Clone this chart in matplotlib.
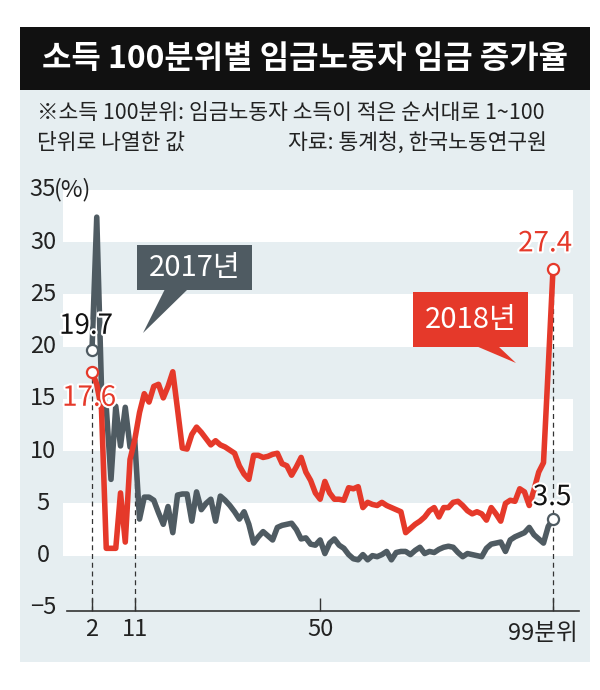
import matplotlib
matplotlib.use('Agg')
import matplotlib.pyplot as plt
from matplotlib.patches import Rectangle, Polygon
import matplotlib.patheffects as pe
import matplotlib.transforms as mtransforms

# ---------------- data ----------------
percentiles = list(range(2, 100))
wage_2017 = [19.7, 32.4, 16.0, 14.2, 7.3, 14.3, 10.5, 14.2, 10.4, 11.0,
             3.5, 5.6, 5.6, 5.3, 4.1, 3.0, 4.7, 2.2, 5.8, 5.9,
             5.9, 3.3, 6.1, 4.4, 5.0, 5.4, 3.3, 5.7, 5.3, 4.8,
             4.2, 3.5, 4.2, 3.0, 1.2, 1.8, 2.3, 1.9, 1.5, 2.7,
             2.9, 3.0, 3.1, 2.5, 1.6, 1.7, 1.1, 1.0, 1.5, 0.2,
             1.2, 1.6, 1.0, 0.7, 0.1, -0.3, -0.4, 0.1, -0.4, 0.0,
             -0.1, 0.1, 0.4, -0.4, 0.3, 0.4, 0.4, 0.1, 0.5, 0.8,
             0.2, 0.4, 0.3, 0.6, 0.8, 0.9, 0.8, 0.3, -0.1, 0.2,
             0.1, 0.0, -0.1, 0.7, 1.1, 1.2, 1.3, 0.4, 1.5, 1.8,
             2.0, 2.2, 2.7, 2.0, 1.6, 1.2, 2.8, 3.5]
wage_2018 = [17.6, 16.4, 14.0, 0.7, 0.7, 0.7, 6.0, 1.3, 9.2, 11.1,
             13.7, 15.5, 14.7, 16.2, 16.4, 15.1, 16.2, 17.6, 14.0, 10.3,
             10.2, 11.6, 12.3, 11.8, 11.2, 10.6, 11.0, 10.6, 10.4, 10.1,
             9.8, 8.6, 7.8, 7.3, 9.6, 9.6, 9.4, 9.5, 9.7, 9.8,
             8.8, 8.6, 7.7, 8.5, 9.4, 8.0, 7.2, 6.0, 5.4, 7.1,
             6.0, 5.4, 5.4, 5.3, 6.5, 6.4, 6.6, 4.6, 5.1, 4.9,
             4.8, 5.1, 4.8, 4.6, 4.4, 4.2, 2.2, 2.6, 3.0, 3.3,
             3.7, 4.3, 4.6, 3.7, 4.6, 4.6, 5.1, 5.2, 4.8, 4.3,
             4.0, 4.2, 4.0, 3.4, 4.6, 4.0, 3.3, 5.0, 5.3, 5.2,
             6.4, 6.1, 4.8, 6.3, 8.0, 8.9, 18.0, 27.4]
x_ticks = [2, 11, 50, 99]
x_tick_labels = ['2', '11', '50', '99분위']
y_ticks = [-5, 0, 5, 10, 15, 20, 25, 30, 35]
y_tick_labels = ['−5', '0', '5', '10', '15', '20', '25', '30', '35']
series_names = ['2017년', '2018년']

title = '소득 100분위별 임금노동자 임금 증가율'
note1 = '※소득 100분위: 임금노동자 소득이 적은 순서대로 1~100'
note2 = '단위로 나열한 값'
source = '자료: 통계청, 한국노동연구원'

# ---------------- style ----------------
FONT = ['Liberation Sans Narrow', 'Noto Sans CJK KR', 'DejaVu Sans']
KFONT = ['Noto Sans CJK KR', 'DejaVu Sans']
plt.rcParams['font.family'] = FONT
GRAY = '#4f5b62'
RED = '#e5392a'
PANEL = '#e6eef1'
INK = '#222222'

W, H = 600, 690
fig = plt.figure(figsize=(W / 100, H / 100), dpi=100)
fig.patch.set_facecolor('white')


def fx(px):
    return px / W


def fy(py):
    return 1 - py / H


# panel background and title band
fig.add_artist(Rectangle((fx(20), fy(662)), fx(590) - fx(20), fy(90) - fy(662),
                         transform=fig.transFigure, facecolor=PANEL, edgecolor='none', zorder=0))
fig.add_artist(Rectangle((fx(20), fy(90)), fx(590) - fx(20), fy(27) - fy(90),
                         transform=fig.transFigure, facecolor='#111111', edgecolor='none', zorder=0))
fig.text(fx(305), fy(59), title, color='white', fontsize=23, fontweight='bold',
         family=KFONT, ha='center', va='center')
fig.text(fx(37), fy(113), note1, color=INK, fontsize=15.5, family=KFONT, ha='left', va='center')
fig.text(fx(37), fy(143), note2, color=INK, fontsize=15.5, family=KFONT, ha='left', va='center')
fig.text(fx(547), fy(143), source, color=INK, fontsize=15.5, family=KFONT, ha='right', va='center')

# axes
ax = fig.add_axes([fx(67), fy(611), fx(579) - fx(67), fy(190) - fy(611)])
ax.set_facecolor('none')
ax.set_xlim(-3.26, 104.47)
ax.set_ylim(-5.3, 35)

blend = mtransforms.blended_transform_factory(fig.transFigure, ax.transData)
for lo in [30, 20, 10, 0]:
    ax.add_patch(Rectangle((fx(63), lo), fx(573) - fx(63), 5, transform=blend,
                           facecolor='white', edgecolor='none', zorder=0.2, clip_on=False))

for s in ['top', 'right', 'left']:
    ax.spines[s].set_visible(False)
ax.spines['bottom'].set_color('#333333')
ax.spines['bottom'].set_linewidth(1.2)

ax.set_yticks([])
for v, lab in zip(y_ticks, y_tick_labels):
    ax.text(fx(43), v, lab, transform=blend, ha='center', va='center',
            fontsize=17, color=INK, clip_on=False)
ax.text(fx(54), 35, '(%)', transform=blend, ha='left', va='center',
        fontsize=17, color=INK, clip_on=False)

ax.set_xticks(x_ticks)
ax.set_xticklabels(x_tick_labels[:-1] + [''])
ax.tick_params(axis='x', direction='in', length=9.5, width=1.0, color='#333333',
               labelsize=17, labelcolor=INK, pad=5)
xblend = mtransforms.blended_transform_factory(fig.transFigure, fig.transFigure)
ax.text(fx(578), fy(633), x_tick_labels[-1], transform=xblend, ha='right', va='center',
        fontsize=17, color=INK)

# dashed guides
dash = dict(color='#333333', lw=0.9, ls=(0, (4, 3)), zorder=1)
ax.plot([2, 2], [-5.3, wage_2018[0]], **dash)
ax.plot([11, 11], [-5.3, wage_2017[9]], **dash)
ax.plot([99, 99], [-5.3, wage_2018[-1]], **dash)

# lines
ax.plot(percentiles, wage_2017, color=GRAY, lw=4.0, zorder=3,
        solid_joinstyle='round', solid_capstyle='round')
ax.plot(percentiles, wage_2018, color=RED, lw=4.0, zorder=4,
        solid_joinstyle='round', solid_capstyle='round')

mk = dict(marker='o', mfc='white', ms=8, mew=1.6, ls='none', zorder=6)
ax.plot([percentiles[0], percentiles[-1]], [wage_2017[0], wage_2017[-1]], mec=GRAY, **mk)
ax.plot([percentiles[0], percentiles[-1]], [wage_2018[0], wage_2018[-1]], mec=RED, **mk)

stroke = [pe.withStroke(linewidth=3, foreground='white')]


def lab(x, y, dx, dy, color):
    ax.annotate(f'{y:.1f}', (x, y), xytext=(dx, dy), textcoords='offset pixels',
                ha='center', va='center', fontsize=20, color=color,
                path_effects=stroke, zorder=7, annotation_clip=False)


lab(percentiles[0], wage_2017[0], -6, 24, '#111111')
lab(percentiles[0], wage_2018[0], -3, -26, RED)
lab(percentiles[-1], wage_2018[-1], -8, 26, RED)
lab(percentiles[-1], wage_2017[-1], -1, 22, '#111111')

# callouts
def callout(x0, x1, y0, y1, tail, color, text):
    fig.add_artist(Rectangle((fx(x0), fy(y1)), fx(x1) - fx(x0), fy(y0) - fy(y1),
                             transform=fig.transFigure, facecolor=color, edgecolor='none', zorder=5))
    fig.add_artist(Polygon([(fx(px), fy(py)) for px, py in tail], closed=True,
                           transform=fig.transFigure, facecolor=color, edgecolor='none', zorder=5))
    fig.text(fx((x0 + x1) / 2), fy((y0 + y1) / 2 + 1), text, color='white', fontsize=21,
             ha='center', va='center', zorder=6)


callout(137, 252, 245, 290, [(165, 289), (188, 289), (143, 333)], GRAY, series_names[0])
callout(413, 528, 292, 347, [(476, 346), (498, 346), (516, 363)], RED, series_names[1])

fig.savefig('out.png', dpi=100, facecolor='white')
